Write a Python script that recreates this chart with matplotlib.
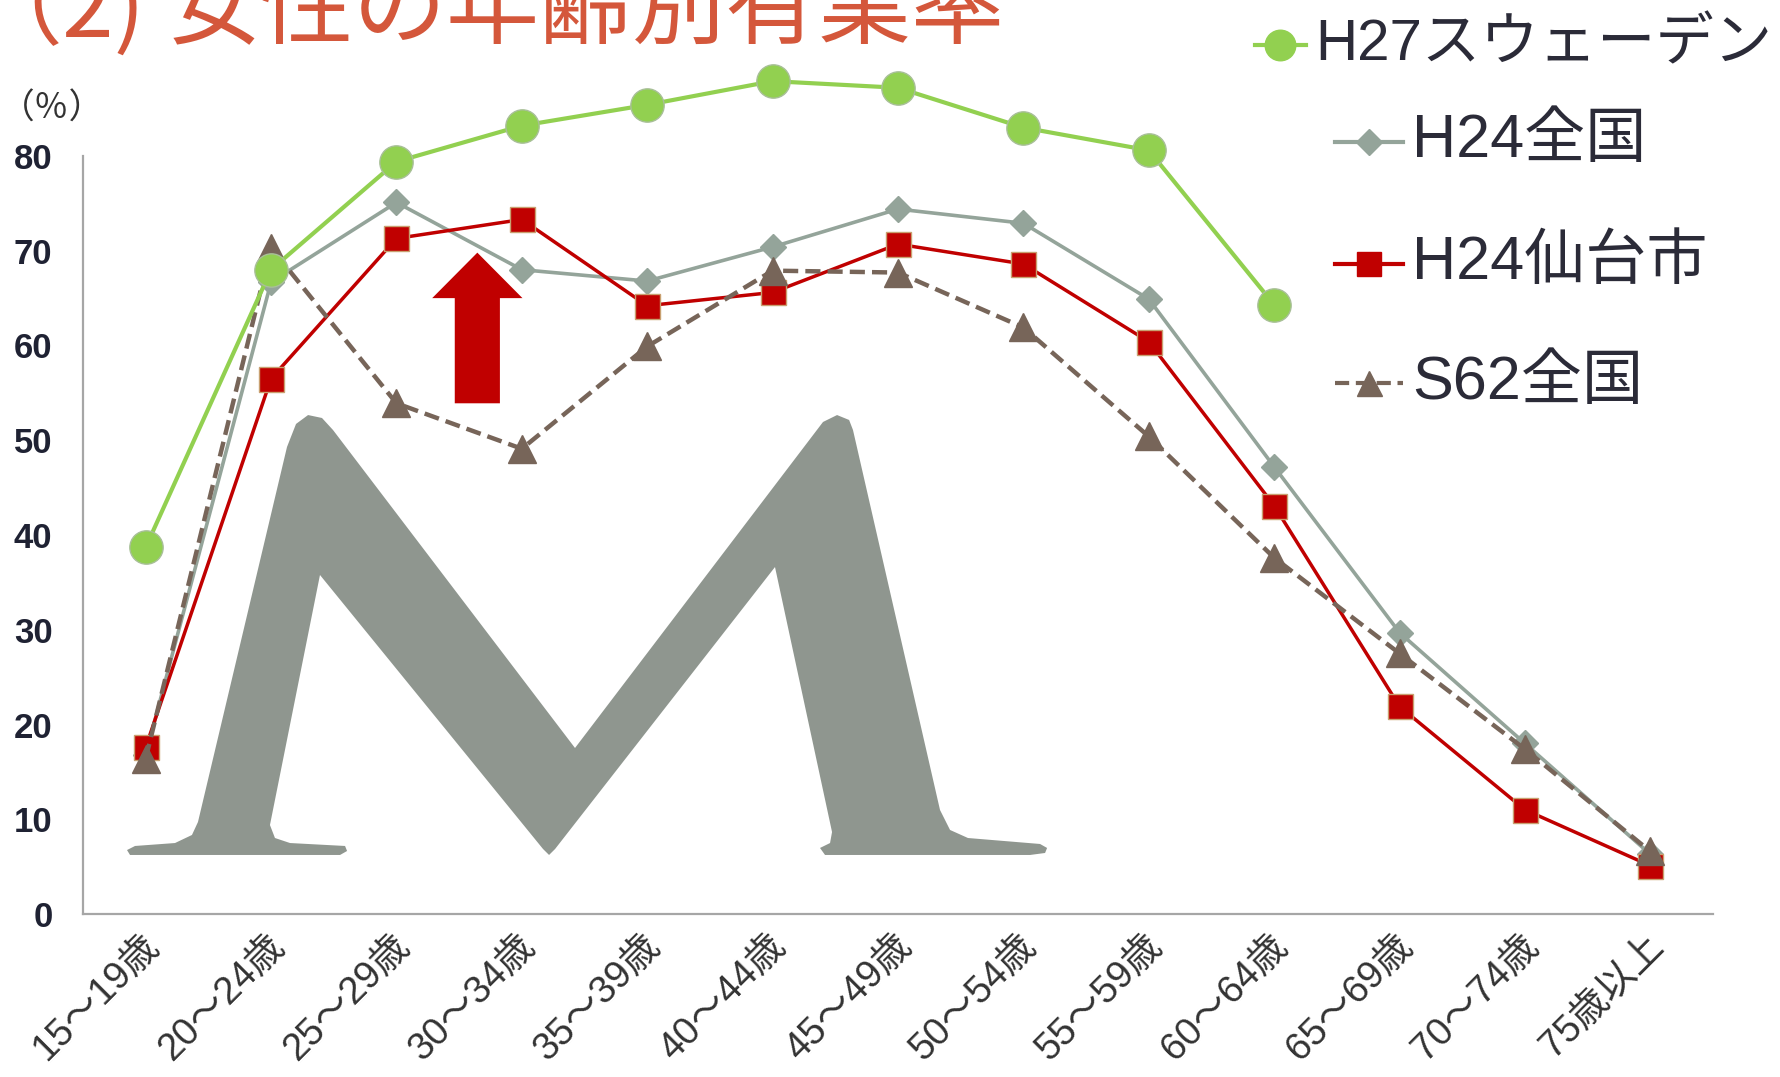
import numpy as np
import matplotlib
matplotlib.use("Agg")
import matplotlib.pyplot as plt
from matplotlib.lines import Line2D
from matplotlib.patches import Polygon
from matplotlib.transforms import ScaledTranslation

# data
ages = ["15～19歳", "20～24歳", "25～29歳", "30～34歳", "35～39歳", "40～44歳",
        "45～49歳", "50～54歳", "55～59歳", "60～64歳", "65～69歳", "70～74歳", "75歳以上"]
sweden_h27 = [38.7, 68.0, 79.4, 83.2, 85.4, 87.9, 87.2, 83.0, 80.6, 64.3]
japan_h24 = [16.8, 66.7, 75.1, 68.0, 66.8, 70.4, 74.4, 72.9, 64.9, 47.2, 29.7, 18.0, 6.3]
sendai_h24 = [17.6, 56.5, 71.3, 73.3, 64.2, 65.6, 70.7, 68.6, 60.4, 43.1, 21.9, 11.0, 5.1]
japan_s62 = [16.4, 70.3, 53.9, 49.1, 59.9, 67.9, 67.7, 61.9, 50.4, 37.6, 27.5, 17.4, 6.6]
labels = ["H27スウェーデン", "H24全国", "H24仙台市", "S62全国"]
yticks = [0, 10, 20, 30, 40, 50, 60, 70, 80]

GREEN, GRAY, RED, BROWN = "#92d050", "#94a49a", "#c00000", "#776559"
JP = ["Liberation Sans", "Noto Sans CJK JP"]
DASH = (0, (3.4, 1.6))

W, H = 1781, 1077
fig = plt.figure(figsize=(W / 100, H / 100), dpi=100)
ax = fig.add_axes([83 / W, 1 - 914 / H, (1713 - 83) / W, (914 - 156) / H])

x = np.arange(len(ages))

# big "M" decoration, outline in (category, %) units
m_outline = [(-0.125, 6.23), (-0.149, 6.75), (-0.085, 7.18), (0.234, 7.49), (0.369, 8.34),
             (0.417, 9.71), (1.127, 49.29), (1.199, 51.72), (1.295, 52.66), (1.406, 52.35),
             (1.494, 51.08), (3.424, 17.52), (5.402, 51.93), (5.514, 52.66), (5.610, 52.14),
             (5.641, 51.08), (6.335, 10.98), (6.415, 8.87), (6.558, 8.02), (7.133, 7.39),
             (7.189, 6.97), (7.173, 6.44), (7.053, 6.23), (5.418, 6.23), (5.378, 6.97),
             (5.458, 7.49), (5.474, 8.65), (5.019, 36.62), (3.265, 6.86), (3.217, 6.23),
             (3.169, 6.86), (1.390, 35.78), (0.991, 9.39), (1.031, 8.02), (1.151, 7.49),
             (1.590, 7.18), (1.606, 6.65), (1.550, 6.23)]
ax.add_patch(Polygon(m_outline, closed=True, fc="#8f968f", ec="none", zorder=1))

# red arrow
ax.arrow(2.645, 53.9, 0, 15.9, width=0.36, head_width=0.72, head_length=4.8,
         length_includes_head=True, fc=RED, ec="none", zorder=2)

ax.plot(x, japan_h24, color=GRAY, lw=2.6, marker="D", ms=13, mec=GRAY, zorder=3, clip_on=False)
ax.plot(x, sendai_h24, color=RED, lw=2.5, marker="s", ms=18, mec="#c8a070", mew=1, zorder=4, clip_on=False)
ax.plot(x, japan_s62, color=BROWN, lw=3.2, ls=DASH, marker="^", ms=20, mec=BROWN, zorder=5, clip_on=False)
ax.plot(x[:len(sweden_h27)], sweden_h27, color=GREEN, lw=3.0, marker="o", ms=24,
        mec="#a8bf98", mew=1, zorder=6, clip_on=False)

ax.set_xlim(-0.5, len(ages) - 0.5)
ax.set_ylim(0, 80)
ax.set_yticks(yticks)
ax.set_yticklabels([str(v) for v in yticks], fontsize=25, color="#1f2233",
                   family="Liberation Sans", weight="bold")
ax.set_xticks(x)
ax.set_xticklabels(ages, rotation=45, ha="right", va="top", rotation_mode="anchor",
                   fontsize=27.5, color="#333333", family=JP)
ax.tick_params(axis="y", length=0, pad=22)
ax.tick_params(axis="x", length=0, pad=10)
shift = ScaledTranslation(-0.05, 0, fig.dpi_scale_trans)
for lab in ax.get_xticklabels():
    lab.set_transform(lab.get_transform() + shift)
for s in ["top", "right"]:
    ax.spines[s].set_visible(False)
for s in ["left", "bottom"]:
    ax.spines[s].set_color("#a6a6a6")
    ax.spines[s].set_linewidth(1.6)

fig.text(0, 1 - 109 / H, "（％）", fontsize=25, color="#333333",
         family=["Noto Sans CJK JP"], va="center", ha="left")

# title (cut at the top like the slide)
fig.text(-31 / W, 1 - 37 / H, "（2)", fontsize=67, color="#d4573b",
         family=["Noto Sans CJK JP"], va="baseline", ha="left")
fig.text(167 / W, 1 - 37 / H, "女性の年齢別有業率", fontsize=67, color="#d4573b",
         family=["Noto Sans CJK JP"], va="baseline", ha="left")

# legend, drawn by hand
leg = [
    (GREEN, "-", "o", 22, 1255, 1306, 1315, 45, 42),
    (GRAY, "-", "D", 13, 1335, 1403, 1412, 142, 44),
    (RED, "-", "s", 17, 1335, 1403, 1412, 264, 44),
    (BROWN, DASH, "^", 18, 1335, 1403, 1412, 383, 44),
]
for (c, ls, mk, ms, lx0, lx1, tx, ty, fs), lab in zip(leg, labels):
    fy = 1 - ty / H
    fig.add_artist(Line2D([lx0 / W, lx1 / W], [fy, fy], color=c, lw=3, ls=ls,
                          transform=fig.transFigure))
    fig.add_artist(Line2D([(lx0 + lx1) / 2 / W], [fy], color=c, marker=mk, ms=ms, mec=c,
                          transform=fig.transFigure))
    fig.text(tx / W, fy, lab, fontsize=fs, color="#2b2b38", family=JP, va="center", ha="left")

fig.savefig("out.png", dpi=100)
